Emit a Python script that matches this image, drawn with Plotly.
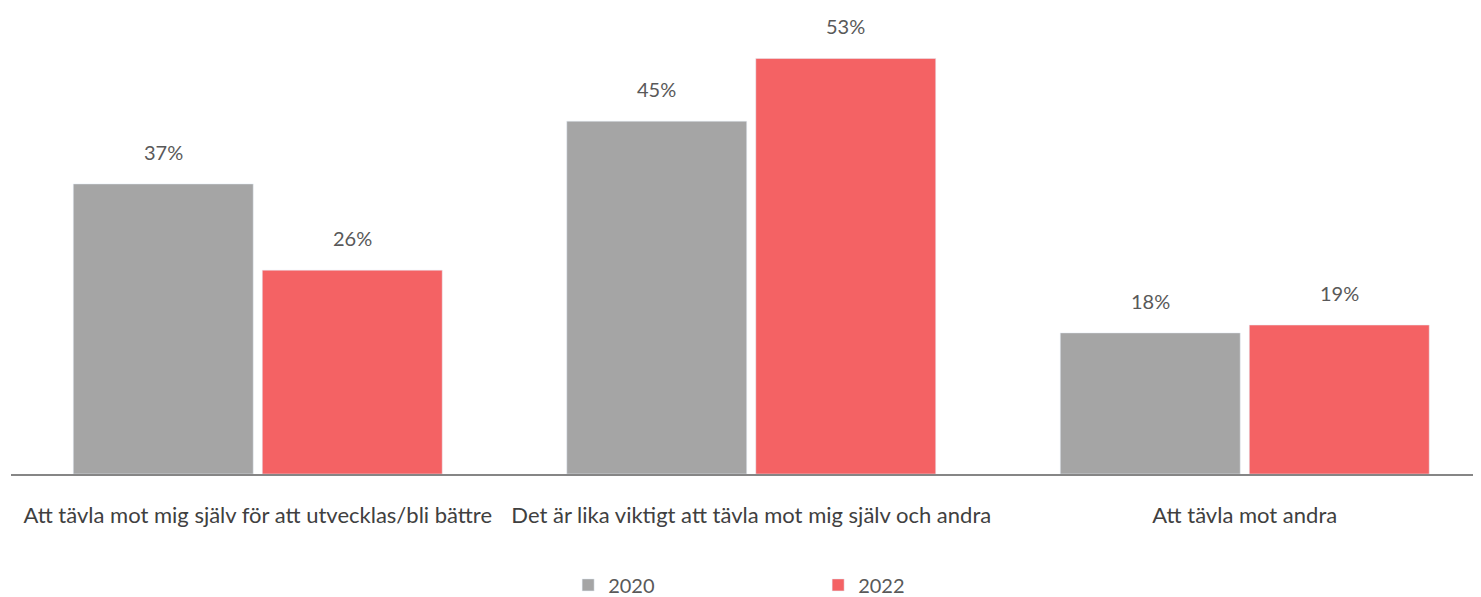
import plotly.graph_objects as go

categories = [
    "Att tävla mot mig själv för att utvecklas/bli bättre",
    "Det är lika viktigt att tävla mot mig själv och andra",
    "Att tävla mot andra",
]
values_2020 = [37, 45, 18]
values_2022 = [26, 53, 19]
series_names = ["2020", "2022"]
colors = ["#A5A5A5", "#F46264"]

FONT = "Lato, Open Sans, sans-serif"
fig = go.Figure()
for i, (name, vals, col) in enumerate(zip(series_names, [values_2020, values_2022], colors)):
    fig.add_trace(go.Bar(
        x=categories, y=vals, name=name, marker_color=col,
        offsetgroup=str(i),
    ))

# value labels placed above each bar
for i, vals in enumerate([values_2020, values_2022]):
    for j, (cat, v) in enumerate(zip(categories, vals)):
        fig.add_annotation(
            x=j + (-0.5 + i) * 0.383, xref="x", y=v, yref="y",
            text=f"{v}%", showarrow=False, yanchor="bottom", yshift=18,
            font=dict(size=20, color="#595959", family=FONT),
        )

fig.update_layout(
    width=1473, height=589,
    margin=dict(l=3, r=0, t=0, b=123, autoexpand=False),
    plot_bgcolor="white", paper_bgcolor="white",
    font=dict(family=FONT, color="#595959", size=16),
    barmode="group", bargap=0.234, bargroupgap=0.048,
    legend=dict(orientation="h", x=0.379, xanchor="left", y=-0.238, yanchor="middle",
                font=dict(size=20, color="#595959", family=FONT), entrywidth=205,
                entrywidthmode="pixels", itemwidth=30),
    showlegend=True,
)
fig.update_xaxes(showline=True, linecolor="#868686", linewidth=2, ticks="",
                 automargin=False, range=[-0.5, 2.4787],
                 ticklabelstandoff=21, tickfont=dict(size=22, color="#404040", family=FONT))
fig.update_yaxes(range=[0, 59.44], visible=False, showgrid=False, automargin=False)
fig.write_html("out.html")
